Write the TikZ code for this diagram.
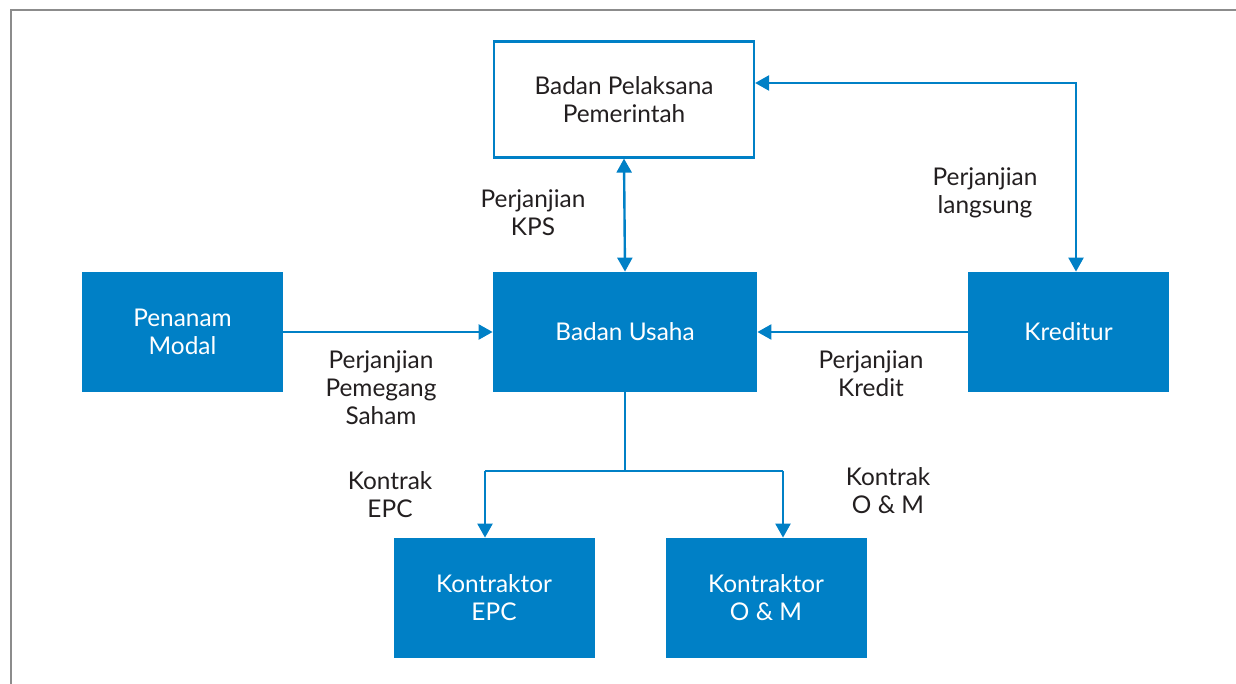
\documentclass[tikz,border=0pt]{standalone}
\usepackage{fontspec}
\setmainfont{Lato}
\usetikzlibrary{arrows.meta}
\definecolor{birukps}{RGB}{0,128,198}
\definecolor{tekskps}{RGB}{35,31,32}
\definecolor{bingkai}{RGB}{140,140,140}

\begin{document}
\begin{tikzpicture}
    [
    x=0.5pt, y=-0.5pt,
    blok/.style = {fill=birukps,text=white,minimum width=100.5pt,minimum height=60pt,inner sep=0pt,align=center,font=\fontsize{12.2}{14}\selectfont},
    blokputih/.style = {draw=birukps,line width=1.1pt,fill=white,text=tekskps,minimum width=130pt,minimum height=58pt,inner sep=0pt,align=center,font=\fontsize{12.2}{14}\selectfont},
    ket/.style = {text=tekskps,align=center,inner sep=0pt,font=\fontsize{12.2}{14}\selectfont},
    garis/.style = {draw=birukps,line width=1.2pt},
    panah/.style = {garis,-{Triangle[length=7pt,width=7.5pt]}},
    panahdua/.style = {garis,{Triangle[length=7pt,width=7.5pt]}-{Triangle[length=7pt,width=7.5pt]}}
    ]
\useasboundingbox (0,0) rectangle (1236,684);
\draw[bingkai,line width=1.3pt] (1236,10) -- (11,10) -- (11,684);

\node[blokputih] (pelaksana) at (624,99.5) {Badan Pelaksana\\Pemerintah};
\node[blok,minimum width=132pt] (usaha) at (625,332) {Badan Usaha};
\node[blok] (modal) at (182.5,332) {Penanam\\Modal};
\node[blok] (kreditur) at (1068.5,332) {Kreditur};
\node[blok] (epc) at (494,598) {Kontraktor\\EPC};
\node[blok] (om) at (766,598) {Kontraktor\\O \& M};

\coordinate (sudut) at (1076,83);
\coordinate (cabang) at (625,471);
\coordinate (kiri) at (485,471);
\coordinate (kanan) at (783,471);

\draw[panahdua] (pelaksana.south) -- (usaha.north);
\draw[panahdua] (pelaksana.east |- sudut) -- (sudut) -- (kreditur.north -| sudut);
\draw[panah] (modal.east) -- (usaha.west);
\draw[panah] (kreditur.west) -- (usaha.east);
\draw[garis] (usaha.south) -- (cabang);
\draw[garis] (kiri) -- (kanan);
\draw[panah] (kiri) -- (kiri |- epc.north);
\draw[panah] (kanan) -- (kanan |- om.north);

\node[ket] (lblkps) at (533,213) {Perjanjian\\KPS};
\node[ket] (lbllangsung) at (985,193) {Perjanjian\\langsung};
\node[ket] (lblsaham) at (381,388) {Perjanjian\\Pemegang\\Saham};
\node[ket] (lblkredit) at (871,374) {Perjanjian\\Kredit};
\node[ket] (lblepc) at (390,495) {Kontrak\\EPC};
\node[ket] (lblom) at (888,491) {Kontrak\\O \& M};

\end{tikzpicture}
\end{document}
